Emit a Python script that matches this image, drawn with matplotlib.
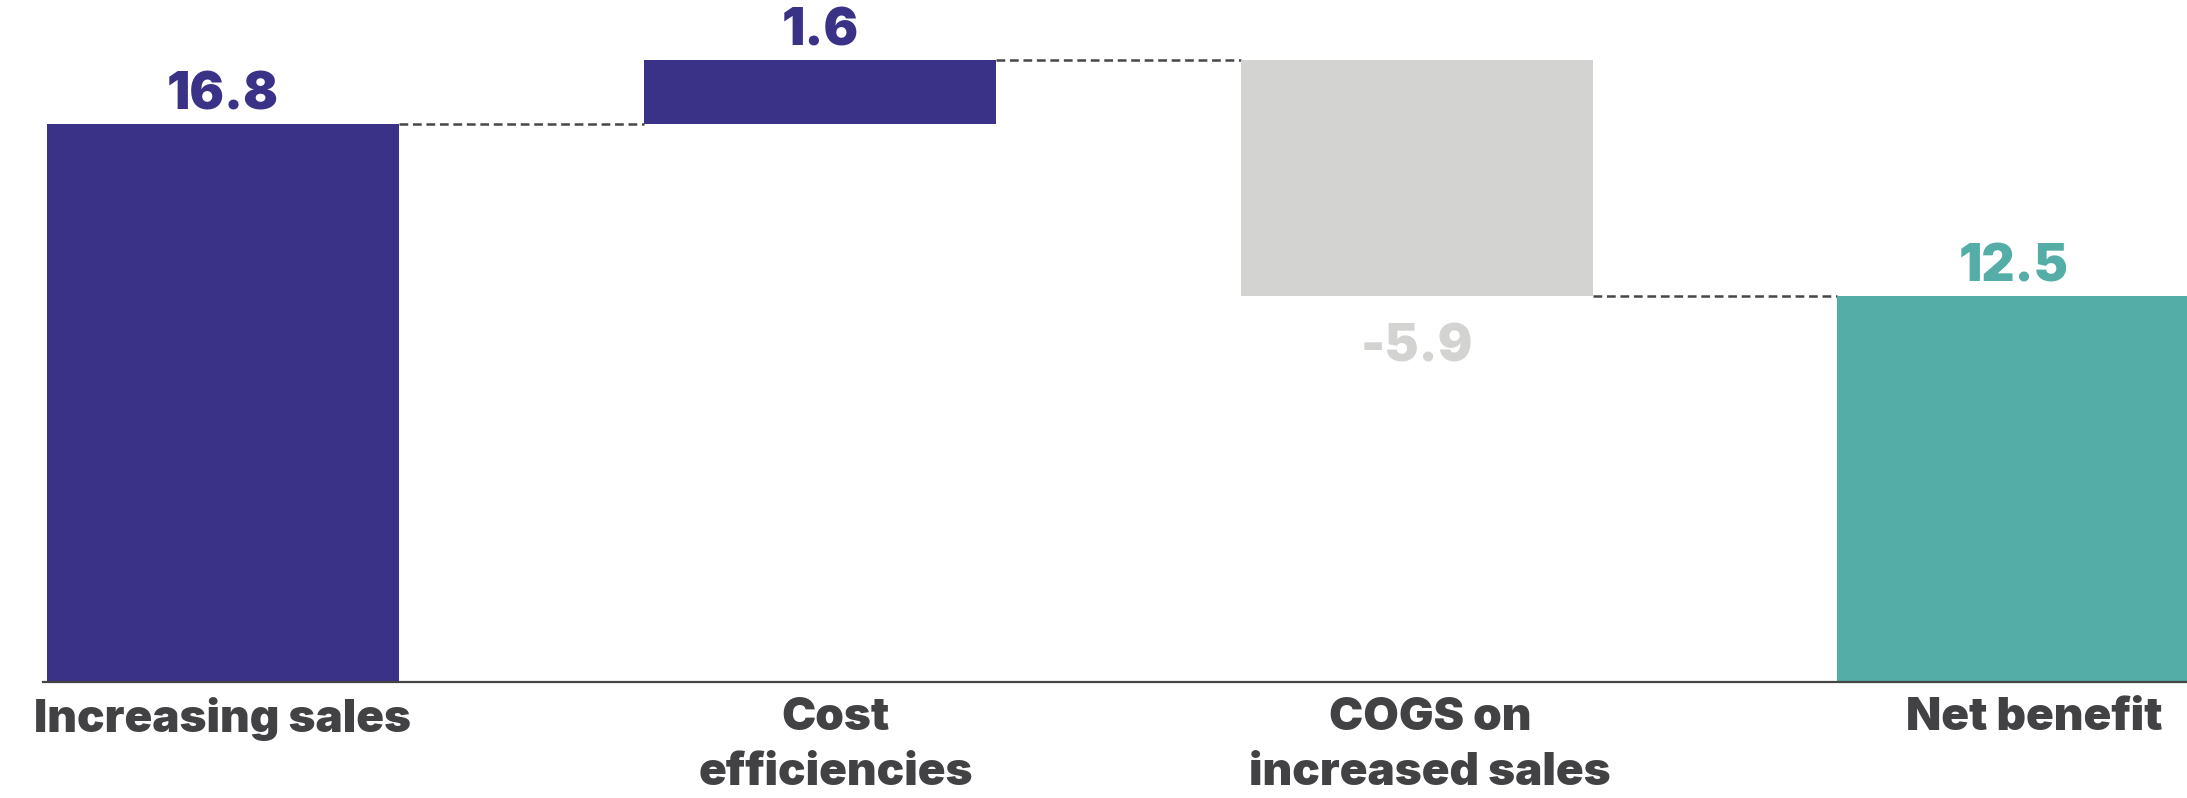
import matplotlib
matplotlib.use("Agg")
import matplotlib.pyplot as plt
import matplotlib.transforms as mtransforms
from matplotlib import font_manager
from matplotlib.font_manager import FontProperties

# ---- data ----
categories = ["Increasing sales", "Cost\nefficiencies", "COGS on\nincreased sales", "Net benefit"]
steps = [16.8, 1.6, -5.9]          # waterfall increments
net_total = 12.5                   # final total bar
label_texts = ["16.8", "1.6", "-5.9", "12.5"]

# ---- style ----
PURPLE = "#3A3286"
GREY = "#D3D3D2"
TEAL = "#54AEA7"
TEXT = "#424244"
DASH = "#474747"
cat_nudge_px = [0, 16, 13, 20]     # horizontal nudge of category labels (pixels)

plt.rcParams["lines.scale_dashes"] = False


def heavy_font(prefs, min_w):
    for fam in prefs:
        cands = [f for f in font_manager.fontManager.ttflist
                 if f.name == fam and f.style == "normal" and "[" not in f.fname
                 and isinstance(f.weight, int) and f.weight >= min_w]
        if cands:
            cands.sort(key=lambda f: f.weight)
            return cands[0].fname
    return None


val_file = heavy_font(["Inter", "Lato", "Roboto", "Open Sans"], 900)
cat_file = val_file


def fp(fname, size):
    if fname:
        return FontProperties(fname=fname, size=size)
    return FontProperties(family="DejaVu Sans", weight="bold", size=size)


W, H = 2187, 798
fig = plt.figure(figsize=(W / 100, H / 100), dpi=100)
ax = fig.add_axes([43 / W, 1 - 682 / H, 1 - 43 / W, 682 / H])

x = list(range(len(categories)))
width = 0.591

# waterfall geometry from the data
bottoms, heights, colors = [], [], []
level = 0.0
for s in steps:
    if s >= 0:
        bottoms.append(level)
        heights.append(s)
        colors.append(PURPLE)
    else:
        bottoms.append(level + s)
        heights.append(-s)
        colors.append(GREY)
    level += s
bottoms.append(0.0)
heights.append(net_total)
colors.append(TEAL)

ax.bar(x, heights, bottom=bottoms, width=width, color=colors, zorder=2)

# connectors
levels = []
lv = 0.0
for s in steps:
    lv += s
    levels.append(lv)
for i, lv in enumerate(levels):
    ax.plot([x[i] + width / 2, x[i + 1] - width / 2], [lv, lv], color=DASH,
            lw=1.8, linestyle=(0, (6.3, 3.4)), dash_capstyle="butt", zorder=1)

# value labels
label_colors = [PURPLE, PURPLE, GREY, TEAL]
values = steps + [net_total]
for i, (v, t, c) in enumerate(zip(values, label_texts, label_colors)):
    if v >= 0:
        ytop = bottoms[i] + heights[i]
        ax.annotate(t, (x[i], ytop), xytext=(0, 10), textcoords="offset points",
                    ha="center", va="baseline", color=c,
                    fontproperties=fp(val_file, 37))
    else:
        ax.annotate(t, (x[i], bottoms[i]), xytext=(0, -20), textcoords="offset points",
                    ha="center", va="top", color=c,
                    fontproperties=fp(val_file, 37))

# category labels
base = mtransforms.blended_transform_factory(ax.transData, ax.transAxes)
for i, cat in enumerate(categories):
    tr = base + mtransforms.ScaledTranslation(cat_nudge_px[i] / 100, -15 / 100,
                                              fig.dpi_scale_trans)
    ax.text(x[i], 0, cat, transform=tr, ha="center", va="top",
            color=TEXT, linespacing=1.4, multialignment="center",
            fontproperties=fp(cat_file, 33))

ax.set_xlim(-0.3015, 3.29)
ax.set_ylim(2.84, 19.89)
for sp in ["top", "right", "left"]:
    ax.spines[sp].set_visible(False)
ax.spines["bottom"].set_color("#444444")
ax.spines["bottom"].set_linewidth(1.6)
ax.spines["bottom"].set_zorder(3)
ax.set_xticks([])
ax.set_yticks([])

fig.savefig("out.png", dpi=100, facecolor="white")
